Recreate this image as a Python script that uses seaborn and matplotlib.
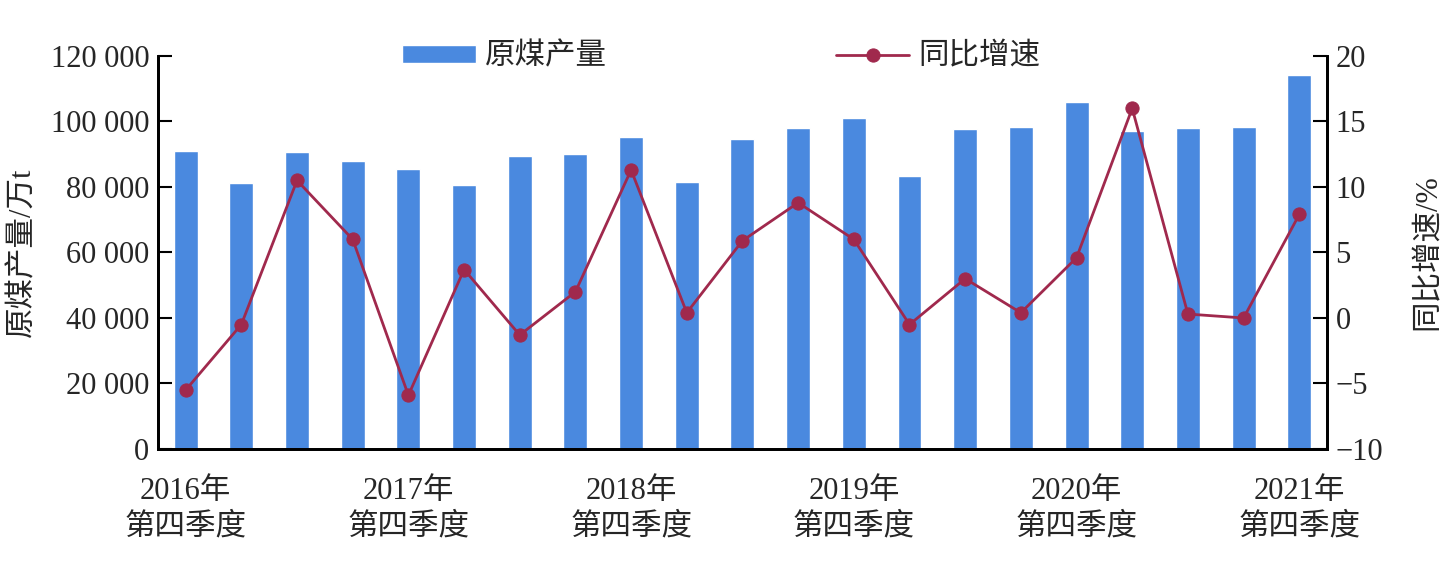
import numpy as np
import pandas as pd
import matplotlib
matplotlib.use("Agg")
import matplotlib.pyplot as plt
import seaborn as sns
from matplotlib.ticker import FuncFormatter, FixedLocator

# ---------------- data ----------------
quarters = [f"{y}Q{q}" for y, q in
            [(2016, 4)] + [(y, q) for y in range(2017, 2021) for q in (1, 2, 3, 4)] +
            [(2021, q) for q in (1, 2, 3, 4)]]
production = [90900, 81200, 90600, 87800, 85400, 80500, 89400, 90000, 95200, 81400,
              94600, 97900, 101000, 83300, 97600, 98200, 105800, 97000, 97900, 98200,
              114100]
growth = [-5.5, -0.5, 10.5, 6.0, -5.9, 3.7, -1.3, 2.0, 11.3, 0.4,
          5.9, 8.8, 6.0, -0.5, 3.0, 0.4, 4.6, 16.0, 0.3, 0.0, 7.9]
tick_labels = ["2016年\n第四季度", "2017年\n第四季度", "2018年\n第四季度",
               "2019年\n第四季度", "2020年\n第四季度", "2021年\n第四季度"]
tick_positions = [0, 4, 8, 12, 16, 20]

df = pd.DataFrame({"quarter": quarters, "production": production, "growth": growth})
df["pos"] = np.arange(len(df))

# ---------------- style ----------------
sns.set_theme(style="white")
plt.rcParams["font.family"] = ["Liberation Serif", "Noto Sans CJK SC", "DejaVu Sans"]
plt.rcParams["axes.unicode_minus"] = True
FS = 22

bar_color = "#4A89DF"
line_color = "#A0294D"

fig = plt.figure(figsize=(14.48, 5.70), dpi=100)
ax = fig.add_axes([0.109, 0.2123, 0.8075, 0.6895])

sns.barplot(data=df, x="pos", y="production", color=bar_color, width=0.43,
            saturation=1, ax=ax, label="原煤产量", native_scale=True)
ax2 = ax.twinx()
sns.lineplot(data=df, x="pos", y="growth", ax=ax2, color=line_color, marker="o",
             markersize=9.5, markeredgecolor=line_color, linewidth=2, label="同比增速")

ax.set_xlim(-0.5, len(df) - 0.5)
ax.set_ylim(0, 120000)
ax2.set_ylim(-10, 20)

ax.yaxis.set_major_locator(FixedLocator(np.arange(0, 120001, 20000)))
ax.yaxis.set_major_formatter(FuncFormatter(lambda v, p: f"{int(v):,}".replace(",", " ")))
ax2.yaxis.set_major_locator(FixedLocator(np.arange(-10, 21, 5)))
ax2.yaxis.set_major_formatter(FuncFormatter(lambda v, p: f"{int(v)}".replace("-", "\u2212")))

# x ticks: marks at bar boundaries, labels at selected bars
ax.set_xticks(np.arange(0.5, len(df) - 0.5, 1.0))
ax.set_xticklabels([])
ax.set_xticks(tick_positions, minor=True)
ax.set_xticklabels(tick_labels, minor=True, fontsize=FS, linespacing=1.3)
ax.tick_params(axis="x", which="major", direction="in", length=10, width=1.5, color="black")
ax.tick_params(axis="x", which="minor", length=0, pad=20)
ax.tick_params(axis="y", direction="in", length=10, width=1.5, labelsize=FS, color="black", pad=6)
ax2.tick_params(axis="y", direction="in", length=10, width=1.5, labelsize=FS, color="black", pad=6)

ax.set_xlabel("")
ax.set_ylabel("原煤产量/万t", fontsize=FS, labelpad=10)
ax2.set_ylabel("同比增速/%", fontsize=FS, labelpad=22)

for a in (ax, ax2):
    a.spines["top"].set_visible(False)
    for s in ("left", "right", "bottom"):
        a.spines[s].set_color("black")
        a.spines[s].set_linewidth(2)
    a.grid(False)

# legend
h1, l1 = ax.get_legend_handles_labels()
h2, l2 = ax2.get_legend_handles_labels()
if ax2.get_legend():
    ax2.get_legend().remove()
if ax.get_legend():
    ax.get_legend().remove()
leg = ax2.legend(h1 + h2, l1 + l2, ncol=2, loc="center", bbox_to_anchor=(0.482, 0.997),
                 frameon=False, fontsize=FS, handlelength=2.4, handleheight=0.55,
                 columnspacing=7.5, handletextpad=0.3)

fig.savefig("out.png", dpi=100)
